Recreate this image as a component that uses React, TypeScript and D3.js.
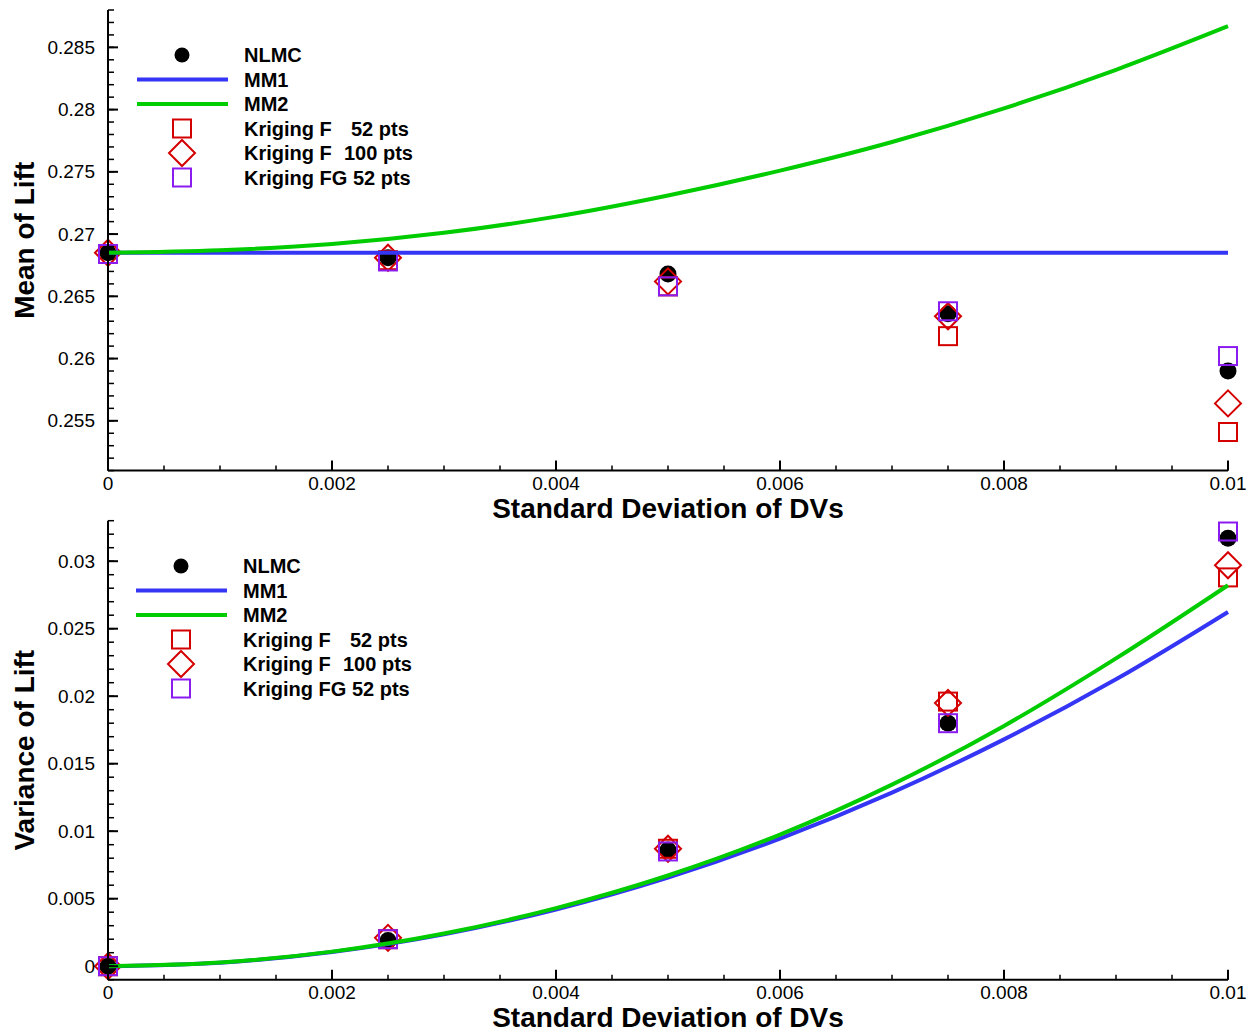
import React from "react";
import * as d3 from "d3";

// sample positions (standard deviation of design variables)
const xs = [0, 0.0025, 0.005, 0.0075, 0.01];
const lineX = [0, 0.001, 0.002, 0.003, 0.004, 0.005, 0.006, 0.007, 0.008, 0.009, 0.01];

// mean of lift
const meanNLMC = [0.2685, 0.2681, 0.2668, 0.2636, 0.259];
const meanKrigF52 = [0.2684, 0.2679, 0.2658, 0.2618, 0.2541];
const meanKrigF100 = [0.2685, 0.2681, 0.2662, 0.2634, 0.2564];
const meanKrigFG52 = [0.2684, 0.2678, 0.2658, 0.2638, 0.2602];
const meanMM1 = [0.2685, 0.2685, 0.2685, 0.2685, 0.2685, 0.2685, 0.2685, 0.2685, 0.2685, 0.2685, 0.2685];
const meanMM2 = [0.2685, 0.2687, 0.2692, 0.2701, 0.2714, 0.2731, 0.2751, 0.2774, 0.2801, 0.2832, 0.2867];

// variance of lift
const varNLMC = [0.0, 0.0019, 0.0086, 0.018, 0.0317];
const varKrigF52 = [0.0, 0.002, 0.0087, 0.0196, 0.0288];
const varKrigF100 = [0.0, 0.0021, 0.0087, 0.0195, 0.0297];
const varKrigFG52 = [0.0, 0.002, 0.0085, 0.018, 0.0322];
const varMM1 = [0, 0.00026, 0.00105, 0.00236, 0.0042, 0.00656, 0.00945, 0.01286, 0.0168, 0.02125, 0.02624];
const varMM2 = [0, 0.00027, 0.00108, 0.00242, 0.0043, 0.00672, 0.00975, 0.01345, 0.0178, 0.0228, 0.02822];

const xMajor = [0, 0.002, 0.004, 0.006, 0.008, 0.01];
const meanMajor = [0.255, 0.26, 0.265, 0.27, 0.275, 0.28, 0.285];
const varMajor = [0, 0.005, 0.01, 0.015, 0.02, 0.025, 0.03];

const legendLabels = ["NLMC", "MM1", "MM2", "Kriging F", "Kriging F", "Kriging FG 52 pts"];

const RED = "#d40000";
const PURPLE = "#8a1cf0";
const BLUE = "#3535f5";
const GREEN = "#00cc00";
const FONT = "Liberation Sans, Arial, sans-serif";

const fmt = (v: number) => String(+v.toFixed(4));

type PanelProps = {
  top: number;
  bottom: number;
  yDomain: [number, number];
  yMajor: number[];
  yMinorStep: number;
  yTitle: string;
  nlmc: number[];
  kf52: number[];
  kf100: number[];
  kfg52: number[];
  mm1: number[];
  mm2: number[];
  legendX: number;
  legendY: number;
};

function Panel(p: PanelProps) {
  const left = 108, right = 1228;
  const x = d3.scaleLinear().domain([0, 0.01]).range([left, right]);
  const y = d3.scaleLinear().domain(p.yDomain).range([p.bottom, p.top]);
  const xMinor = d3.range(0, 0.0100001, 0.0005);
  const nMinor = Math.round((p.yDomain[1] - p.yDomain[0]) / p.yMinorStep);
  const yMinor = d3.range(0, nMinor + 1).map((i) => p.yDomain[0] + i * p.yMinorStep);
  const line = d3
    .line<number>()
    .x((_, i) => x(lineX[i]))
    .y((d) => y(d))
    .curve(d3.curveMonotoneX);

  const sq = (cx: number, cy: number, c: string, k: string) => (
    <rect key={k} x={cx - 9} y={cy - 9} width={18} height={18} fill="none" stroke={c} strokeWidth={2} />
  );
  const dia = (cx: number, cy: number, k: string) => (
    <path key={k} d={`M${cx},${cy - 13}L${cx + 13},${cy}L${cx},${cy + 13}L${cx - 13},${cy}Z`} fill="none" stroke={RED} strokeWidth={2} />
  );

  const lx = p.legendX, ly = p.legendY, dy = 24.5;
  const tx = lx + 62;

  return (
    <g>
      {/* markers */}
      {p.nlmc.map((v, i) => (
        <circle key={"c" + i} cx={x(xs[i])} cy={y(v)} r={8.5} fill="#000" />
      ))}
      {p.kf52.map((v, i) => sq(x(xs[i]), y(v), RED, "s" + i))}
      {p.kf100.map((v, i) => dia(x(xs[i]), y(v), "d" + i))}
      {p.kfg52.map((v, i) => sq(x(xs[i]), y(v), PURPLE, "g" + i))}
      {/* model lines */}
      <path d={line(p.mm1) || ""} fill="none" stroke={BLUE} strokeWidth={4} />
      <path d={line(p.mm2) || ""} fill="none" stroke={GREEN} strokeWidth={4} />

      {/* axes */}
      <line x1={left} x2={left} y1={p.top} y2={p.bottom} stroke="#000" strokeWidth={2} />
      <line x1={left} x2={right} y1={p.bottom} y2={p.bottom} stroke="#000" strokeWidth={2} />
      {xMinor.map((v, i) => (
        <line key={"xm" + i} x1={x(v)} x2={x(v)} y1={p.bottom} y2={p.bottom - 5} stroke="#000" strokeWidth={1.5} />
      ))}
      {xMajor.map((v, i) => (
        <g key={"xM" + i}>
          <line x1={x(v)} x2={x(v)} y1={p.bottom} y2={p.bottom - 10} stroke="#000" strokeWidth={2} />
          <text x={x(v)} y={p.bottom + 19} textAnchor="middle" fontSize={19} fontFamily={FONT}>
            {fmt(v)}
          </text>
        </g>
      ))}
      {yMinor.map((v, i) => (
        <line key={"ym" + i} x1={left} x2={left + 6} y1={y(v)} y2={y(v)} stroke="#000" strokeWidth={1.5} />
      ))}
      {p.yMajor.map((v, i) => (
        <g key={"yM" + i}>
          <line x1={left} x2={left + 10} y1={y(v)} y2={y(v)} stroke="#000" strokeWidth={2} />
          <text x={95} y={y(v)} dy="0.35em" textAnchor="end" fontSize={19} fontFamily={FONT}>
            {fmt(v)}
          </text>
        </g>
      ))}
      <text x={668} y={p.bottom + 47} textAnchor="middle" fontSize={28} fontWeight="bold" fontFamily={FONT}>
        Standard Deviation of DVs
      </text>
      <text
        transform={`translate(34,${(p.top + p.bottom) / 2}) rotate(-90)`}
        textAnchor="middle"
        fontSize={28}
        fontWeight="bold"
        fontFamily={FONT}
      >
        {p.yTitle}
      </text>

      {/* legend */}
      <circle cx={lx} cy={ly} r={7.5} fill="#000" />
      <line x1={lx - 45} x2={lx + 46} y1={ly + dy} y2={ly + dy} stroke={BLUE} strokeWidth={4} />
      <line x1={lx - 45} x2={lx + 46} y1={ly + 2 * dy} y2={ly + 2 * dy} stroke={GREEN} strokeWidth={4} />
      {sq(lx, ly + 3 * dy, RED, "ls")}
      {dia(lx, ly + 4 * dy, "ld")}
      {sq(lx, ly + 5 * dy, PURPLE, "lg")}
      {legendLabels.map((t, i) => (
        <text key={"lt" + i} x={tx} y={ly + i * dy} dy="0.35em" fontSize={20} fontWeight="bold" fontFamily={FONT}>
          {t}
        </text>
      ))}
      <text x={tx + 107} y={ly + 3 * dy} dy="0.35em" fontSize={20} fontWeight="bold" fontFamily={FONT}>
        52 pts
      </text>
      <text x={tx + 100} y={ly + 4 * dy} dy="0.35em" fontSize={20} fontWeight="bold" fontFamily={FONT}>
        100 pts
      </text>
    </g>
  );
}

export default function App() {
  return (
    <svg width={1257} height={1032} style={{ position: "absolute", left: 0, top: 0, background: "#fff" }}>
      <Panel
        top={10}
        bottom={470.6}
        yDomain={[0.251, 0.288]}
        yMajor={meanMajor}
        yMinorStep={0.001}
        yTitle="Mean of Lift"
        nlmc={meanNLMC}
        kf52={meanKrigF52}
        kf100={meanKrigF100}
        kfg52={meanKrigFG52}
        mm1={meanMM1}
        mm2={meanMM2}
        legendX={182}
        legendY={55}
      />
      <Panel
        top={520.7}
        bottom={979.7}
        yDomain={[-0.001, 0.033]}
        yMajor={varMajor}
        yMinorStep={0.001}
        yTitle="Variance of Lift"
        nlmc={varNLMC}
        kf52={varKrigF52}
        kf100={varKrigF100}
        kfg52={varKrigFG52}
        mm1={varMM1}
        mm2={varMM2}
        legendX={181}
        legendY={566}
      />
    </svg>
  );
}
